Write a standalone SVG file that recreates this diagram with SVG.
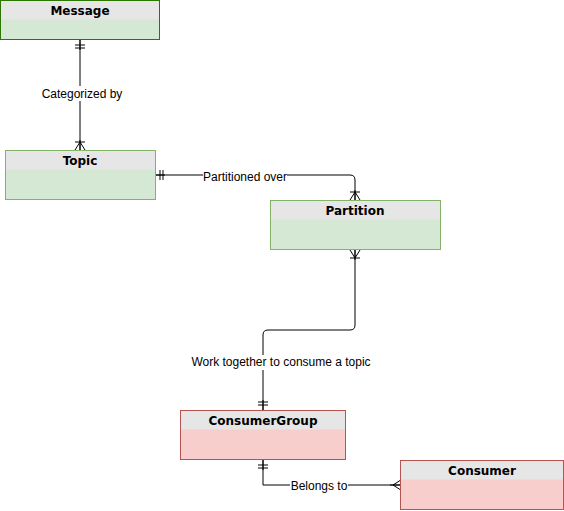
<svg xmlns="http://www.w3.org/2000/svg" width="564" height="511" viewBox="0 0 564 511">
<style>
.g{fill:#d5e8d4}
.r{fill:#f8cecc}
.h{fill:#e6e6e6}
.og{fill:none;stroke:#82b366;stroke-width:1}
.ogd{fill:none;stroke:#2d7600;stroke-width:1}
.or{fill:none;stroke:#b85450;stroke-width:1}
.t{font-family:"DejaVu Sans",Verdana,sans-serif;font-weight:bold;font-size:12px;fill:#000;text-anchor:middle}
.c{fill:none;stroke:#000;stroke-width:1}
.l{font-family:"Liberation Sans",Arial,Helvetica,sans-serif;font-size:12px;fill:#000;text-anchor:middle}
.lb{fill:#fff}
.m{fill:none;stroke:#000;stroke-width:1}
</style>
<defs>
<marker id="one" viewBox="0 -6 12 12" refX="10" refY="0" markerWidth="12" markerHeight="12" markerUnits="userSpaceOnUse" orient="auto-start-reverse">
<path class="m" d="M0,0 L10,0 M5,-5 L5,5 M2,-5 L2,5"/>
</marker>
<marker id="otm" viewBox="0 -6 12 12" refX="10" refY="0" markerWidth="12" markerHeight="12" markerUnits="userSpaceOnUse" orient="auto-start-reverse">
<path class="m" d="M0,0 L10,0 M2,0 L10,-5 M2,0 L10,5 M2,-5 L2,5"/>
</marker>
<marker id="many" viewBox="0 -6 12 12" refX="10" refY="0" markerWidth="12" markerHeight="12" markerUnits="userSpaceOnUse" orient="auto-start-reverse">
<path class="m" d="M0,0 L10,0 M3,0 L10,-4.5 M3,0 L10,4.5"/>
</marker>
</defs>
<g id="connectors">
<path class="c" d="M80,40 L80,150" marker-start="url(#one)" marker-end="url(#otm)"/>
<path class="c" d="M155,175 L350,175 Q355,175 355,180 L355,200" marker-start="url(#one)" marker-end="url(#otm)"/>
<path class="c" d="M355,250 L355,325 Q355,330 350,330 L268,330 Q263,330 263,335 L263,410" marker-start="url(#otm)" marker-end="url(#one)"/>
<path class="c" d="M263,460 L263,485 L400,485" marker-start="url(#one)" marker-end="url(#many)"/>
<rect class="lb" x="41" y="86" width="82" height="15"/>
<text class="l" x="82" y="98">Categorized by</text>
<rect class="lb" x="203" y="169" width="84" height="15"/>
<text class="l" x="245" y="180.5">Partitioned over</text>
<rect class="lb" x="191" y="355" width="180" height="15"/>
<text class="l" x="281" y="366">Work together to consume a topic</text>
<rect class="lb" x="290" y="478" width="58" height="15"/>
<text class="l" x="319" y="489.5">Belongs to</text>
</g>
<g id="Message">
<rect class="g" x="0.5" y="0.5" width="159" height="39"/>
<rect class="h" x="0.5" y="0.5" width="159" height="19"/>
<rect class="ogd" x="0.5" y="0.5" width="159" height="39"/>
<text class="t" x="80" y="14.5">Message</text>
</g>
<g id="Topic">
<rect class="g" x="5.5" y="150.5" width="150" height="49"/>
<rect class="h" x="5.5" y="150.5" width="150" height="19"/>
<rect class="og" x="5.5" y="150.5" width="150" height="49"/>
<text class="t" x="80" y="164.5">Topic</text>
</g>
<g id="Partition">
<rect class="g" x="270.5" y="200.5" width="170" height="49"/>
<rect class="h" x="270.5" y="200.5" width="170" height="19"/>
<rect class="og" x="270.5" y="200.5" width="170" height="49"/>
<text class="t" x="355" y="214.5">Partition</text>
</g>
<g id="ConsumerGroup">
<rect class="r" x="180.5" y="410.5" width="165" height="49"/>
<rect class="h" x="180.5" y="410.5" width="165" height="19"/>
<rect class="or" x="180.5" y="410.5" width="165" height="49"/>
<text class="t" x="263" y="424.5">ConsumerGroup</text>
</g>
<g id="Consumer">
<rect class="r" x="400.5" y="460.5" width="163" height="49"/>
<rect class="h" x="400.5" y="460.5" width="163" height="19"/>
<rect class="or" x="400.5" y="460.5" width="163" height="49"/>
<text class="t" x="482" y="474.5">Consumer</text>
</g>
</svg>
